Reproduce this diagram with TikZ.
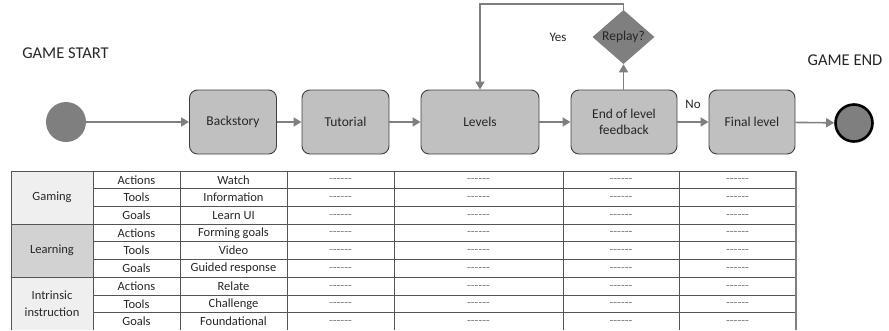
\documentclass[tikz,border=0pt]{standalone}
\usepackage{fontspec}
\setmainfont{Carlito}
\usetikzlibrary{arrows.meta,shapes.geometric,positioning}

\definecolor{boxgray}{HTML}{C0C0C0}
\definecolor{darkgray}{HTML}{7F7F7F}
\definecolor{edgegray}{HTML}{404040}
\definecolor{linegray}{HTML}{555555}
\definecolor{paleshade}{HTML}{EFEFEF}
\definecolor{midshade}{HTML}{D2D2D2}
\definecolor{inkgray}{HTML}{262626}

\tikzset{
  stepbox/.style={draw=edgegray, fill=boxgray, rounded corners=8pt, line width=0.9pt,
      minimum height=64pt, align=center, text=inkgray,
      font=\fontsize{13.5}{15.5}\selectfont},
  flow/.style={draw=darkgray, line width=1.6pt, -{Triangle[length=8pt,width=9pt]}},
  label_txt/.style={text=inkgray, font=\fontsize{13}{15}\selectfont},
  cell/.style={text=inkgray, font=\fontsize{12.5}{14}\selectfont},
  dash_cell/.style={text=darkgray, font=\fontsize{12.5}{14}\selectfont}
}
\def\RowH {17.7}
\def\TopY {171}
\def\Dashes {-\kern0pt-\kern0pt-\kern0pt-\kern0pt-\kern0pt-}

\begin{document}
\begin{tikzpicture}[x=1pt,y=-1pt]
        \useasboundingbox (0,0) rectangle (889,330);
        \node[label_txt, font=\fontsize{16.5}{18}\selectfont] (start_lbl) at (65.5,53) {GAME START};
        \node[label_txt, font=\fontsize{16.5}{18}\selectfont] (end_lbl) at (845,60) {GAME END};
        \node[circle, fill=darkgray, minimum size=40pt, inner sep=0pt] (start) at (66,122) {};
        \node[stepbox, minimum width=87pt] (backstory) at (233,122) {Backstory};
        \node[stepbox, minimum width=87pt] (tutorial) at (345.5,122) {Tutorial};
        \node[stepbox, minimum width=118pt] (levels) at (480,122) {Levels};
        \node[stepbox, minimum width=106pt] (feedback) at (624,122) {End of level\\feedback};
        \node[stepbox, minimum width=86pt] (final) at (752,122) {Final level};
        \node[circle, draw=black, line width=2.6pt, fill=darkgray, minimum size=37pt, inner sep=0pt] (finish) at (854,123) {};
        \node[diamond, fill=darkgray, minimum width=62pt, minimum height=49pt, inner sep=0pt,
            text=inkgray, font=\fontsize{13.5}{15}\selectfont] (replay) at (623.5,37) {Replay?};
        \coordinate (loop_top) at (480,4);
        \draw[flow] (start) -- (backstory);
        \draw[flow] (backstory) -- (tutorial);
        \draw[flow] (tutorial) -- (levels);
        \draw[flow] (levels) -- (feedback);
        \draw[flow] (feedback) -- node[label_txt, above=9pt] (no_lbl) {No} (final);
        \draw[flow] (final) -- (finish);
        \draw[flow] (feedback.north -| replay.south) -- (replay.south);
        \draw[flow] (replay.north) |- (loop_top) -- (levels.north);
        \node[label_txt] (yes_lbl) at (558,37) {Yes};

        \fill[paleshade] (11,\TopY) rectangle (93,{\TopY+3*\RowH});
        \fill[midshade] (11,{\TopY+3*\RowH}) rectangle (93,{\TopY+6*\RowH});
        \fill[paleshade] (11,{\TopY+6*\RowH}) rectangle (93,330);
        \foreach \k in {0,1,...,8} {
            \draw[linegray, line width=0.8pt] (93,{\TopY+\k*\RowH}) -- (796,{\TopY+\k*\RowH});
          }
        \foreach \k in {0,3,6} {
            \draw[linegray, line width=0.8pt] (11,{\TopY+\k*\RowH}) -- (93,{\TopY+\k*\RowH});
          }
        \foreach \cx in {11,93,180,287,394,563,679} {
            \draw[linegray, line width=0.8pt] (\cx,\TopY) -- (\cx,330);
          }
        \draw[darkgray, line width=1.6pt] (796,\TopY) -- (796,330);
        \node[cell] (gaming) at (52,{\TopY+1.5*\RowH}) {Gaming};
        \node[cell] (learning) at (52,{\TopY+4.5*\RowH}) {Learning};
        \node[cell, align=center, font=\fontsize{12.5}{17}\selectfont] (intrinsic) at (52,{\TopY+7.5*\RowH}) {Intrinsic\\instruction};
        \foreach \kind/\what [count=\r from 0] in {Actions/Watch, Tools/Information, Goals/Learn UI,
            Actions/Forming goals, Tools/Video, Goals/Guided response,
            Actions/Relate, Tools/Challenge, Goals/Foundational} {
            \def\cy {\TopY+(\r+0.5)*\RowH};
            \node[cell] (kind_\r) at (136.5,{\cy}) {\kind};
            \node[cell] (what_\r) at (233.5,{\cy}) {\what};
            \foreach \cx in {340.5,478.5,621,737.5} {
                \node[dash_cell] at (\cx,{\cy+1}) {\Dashes};
              }
          }
      \end{tikzpicture}
\end{document}
